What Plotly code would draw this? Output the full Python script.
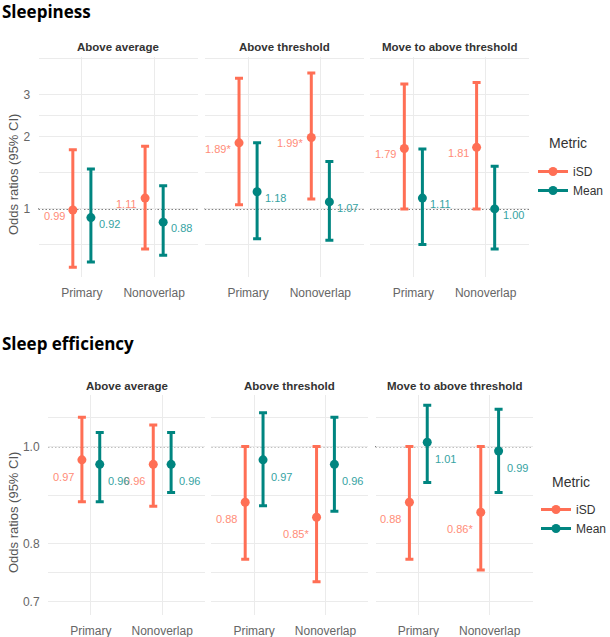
import numpy as np
import plotly.graph_objects as go

# ---------------- data ----------------
facets = ["Above average", "Above threshold", "Move to above threshold"]
analyses = ["Primary", "Nonoverlap"]
metrics = ["iSD", "Mean"]

# Sleepiness (rows = facets, cols = analyses)
sleepiness_isd_or = [[0.99, 1.11], [1.89, 1.99], [1.79, 1.81]]
sleepiness_isd_lo = [[0.57, 0.68], [1.04, 1.10], [1.00, 1.00]]
sleepiness_isd_hi = [[1.77, 1.83], [3.52, 3.70], [3.33, 3.38]]
sleepiness_isd_lab = [["0.99", "1.11"], ["1.89*", "1.99*"], ["1.79", "1.81"]]
sleepiness_mean_or = [[0.92, 0.88], [1.18, 1.07], [1.11, 1.00]]
sleepiness_mean_lo = [[0.60, 0.64], [0.75, 0.74], [0.71, 0.68]]
sleepiness_mean_hi = [[1.47, 1.25], [1.89, 1.58], [1.78, 1.51]]
sleepiness_mean_lab = [["0.92", "0.88"], ["1.18", "1.07"], ["1.11", "1.00"]]

# Sleep efficiency
eff_isd_or = [[0.97, 0.96], [0.88, 0.85], [0.88, 0.86]]
eff_isd_lo = [[0.881, 0.872], [0.772, 0.733], [0.772, 0.753]]
eff_isd_hi = [[1.070, 1.051], [1.000, 1.000], [1.000, 1.000]]
eff_isd_lab = [["0.97", "0.96"], ["0.88", "0.85*"], ["0.88", "0.86*"]]
eff_mean_or = [[0.96, 0.96], [0.97, 0.96], [1.01, 0.99]]
eff_mean_lo = [[0.881, 0.900], [0.873, 0.862], [0.921, 0.900]]
eff_mean_hi = [[1.033, 1.033], [1.081, 1.070], [1.100, 1.090]]
eff_mean_lab = [["0.96", "0.96"], ["0.97", "0.96"], ["1.01", "0.99"]]

# axis breaks
sleepiness_ticks = [1, 2, 3]
sleepiness_ticktext = ["1", "2", "3"]
sleepiness_minor = [0.707, 1.414, 2.449, 4.243]
sleepiness_range = [0.519, 4.32]
eff_ticks = [0.7, 0.8, 1.0]
eff_ticktext = ["0.7", "0.8", "1.0"]
eff_minor = [0.748, 0.894, 1.069]
eff_range = [0.679, 1.126]
REF_VALUE = 1.0

# ---------------- style ----------------
W, H = 610, 637
COL = {"iSD": "#FF6F55", "Mean": "#008580"}
LABCOL = {"iSD": "#FF8C78", "Mean": "#36A3A3"}
DODGE = {"iSD": -0.125, "Mean": 0.125}
GRID = "#EBEBEB"
FONT = "Liberation Sans, Arial, sans-serif"

charts = [
    dict(title="Sleepiness", title_y=11,
         data={"iSD": (sleepiness_isd_or, sleepiness_isd_lo, sleepiness_isd_hi, sleepiness_isd_lab),
               "Mean": (sleepiness_mean_or, sleepiness_mean_lo, sleepiness_mean_hi, sleepiness_mean_lab)},
         ticks=sleepiness_ticks, ticktext=sleepiness_ticktext, minor=sleepiness_minor,
         yrange=sleepiness_range, ypx=(57, 277), strip_y=47,
         xpx=[(38.5, 197.5), (204.7, 363.7), (370, 529)], labshift=-6,
         legend="legend", leg_x=533, leg_y=157, legtitle_x=547, legtitle_y=143),
    dict(title="Sleep efficiency", title_y=343,
         data={"iSD": (eff_isd_or, eff_isd_lo, eff_isd_hi, eff_isd_lab),
               "Mean": (eff_mean_or, eff_mean_lo, eff_mean_hi, eff_mean_lab)},
         ticks=eff_ticks, ticktext=eff_ticktext, minor=eff_minor,
         yrange=eff_range, ypx=(395, 615), strip_y=386,
         xpx=[(48, 205), (211.3, 368.3), (375.5, 532.5)], labshift=-17,
         legend="legend2", leg_x=536, leg_y=495, legtitle_x=550, legtitle_y=482),
]

fig = go.Figure()
layout = {}
annotations = []
shapes = []

ax_i = 0
for ci, ch in enumerate(charts):
    y0px, y1px = ch["ypx"]
    ydom = [1 - y1px / H, 1 - y0px / H]
    for fi, facet in enumerate(facets):
        ax_i += 1
        suf = "" if ax_i == 1 else str(ax_i)
        xref, yref = "x" + suf, "y" + suf
        x0px, x1px = ch["xpx"][fi]
        layout["xaxis" + suf] = dict(
            domain=[x0px / W, x1px / W], anchor=yref, range=[0.4, 2.6],
            tickmode="array", tickvals=[1, 2], ticktext=analyses,
            showgrid=True, gridcolor=GRID, gridwidth=1, zeroline=False, showline=False,
            ticks="outside", ticklen=5, tickcolor="rgba(0,0,0,0)",
            tickfont=dict(family=FONT, size=12, color="#666666"), fixedrange=True)
        layout["yaxis" + suf] = dict(
            domain=ydom, anchor=xref, type="log",
            range=[np.log10(ch["yrange"][0]), np.log10(ch["yrange"][1])],
            tickmode="array", tickvals=ch["ticks"], ticktext=ch["ticktext"],
            showticklabels=(fi == 0),
            showgrid=True, gridcolor=GRID, gridwidth=1, zeroline=False, showline=False,
            ticks="outside" if fi == 0 else "", ticklen=5, tickcolor="rgba(0,0,0,0)",
            tickfont=dict(family=FONT, size=12, color="#666666"),
            minor=dict(tickmode="array", tickvals=ch["minor"], showgrid=True,
                       gridcolor=GRID, gridwidth=1, ticks=""),
            fixedrange=True)
        # reference dotted line
        shapes.append(dict(type="line", xref=xref + " domain", yref=yref,
                           x0=0, x1=1, y0=REF_VALUE, y1=REF_VALUE,
                           line=dict(color="#000000", width=1.3, dash="1.5px,2px"), layer="below"))
        # strip title
        annotations.append(dict(text="<b>%s</b>" % facet, xref="paper", yref="paper",
                                x=(x0px + x1px) / 2 / W, y=1 - ch["strip_y"] / H,
                                xanchor="center", yanchor="middle", showarrow=False,
                                font=dict(family=FONT, size=11.5, color="#333333")))
        for m in metrics:
            orv, lo, hi, lab = ch["data"][m]
            xs = [k + 1 + DODGE[m] for k in range(len(analyses))]
            ys = orv[fi]
            plus = [h - v for h, v in zip(hi[fi], ys)]
            minus = [v - l for v, l in zip(ys, lo[fi])]
            fig.add_trace(go.Scatter(
                x=xs, y=ys, xaxis=xref, yaxis=yref, mode="markers", showlegend=False,
                marker=dict(color=COL[m], size=9),
                error_y=dict(type="data", symmetric=False, array=plus, arrayminus=minus,
                             color=COL[m], thickness=3, width=4),
                hoverinfo="skip"))
            for x, y, t in zip(xs, ys, lab[fi]):
                annotations.append(dict(
                    text=t, xref=xref, yref=yref, x=x, y=np.log10(y),
                    xanchor="right" if m == "iSD" else "left", yanchor="middle",
                    xshift=-6 if m == "iSD" else 6, yshift=ch["labshift"],
                    showarrow=False, font=dict(family=FONT, size=11, color=LABCOL[m])))
    # legend entries
    for m in metrics:
        fig.add_trace(go.Scatter(
            x=[None], y=[None], mode="lines+markers", name=m, legend=ch["legend"],
            line=dict(color=COL[m], width=3), marker=dict(color=COL[m], size=9),
            showlegend=True))
    layout[ch["legend"]] = dict(
        x=ch["leg_x"] / W, y=1 - ch["leg_y"] / H, xanchor="left", yanchor="top",
        font=dict(family=FONT, size=12, color="#333333"), bgcolor="rgba(0,0,0,0)",
        tracegroupgap=0)
    annotations.append(dict(text="Metric", xref="paper", yref="paper",
                            x=ch["legtitle_x"] / W, y=1 - ch["legtitle_y"] / H,
                            xanchor="left", yanchor="middle", showarrow=False,
                            font=dict(family=FONT, size=14, color="#333333")))
    # chart title
    annotations.append(dict(text="<b>%s</b>" % ch["title"], xref="paper", yref="paper",
                            x=0, y=1 - ch["title_y"] / H, xanchor="left", yanchor="middle",
                            showarrow=False,
                            font=dict(family="Open Sans, Noto Sans, sans-serif", size=17, color="black")))
    # y axis title
    annotations.append(dict(text="Odds ratios (95% CI)", xref="paper", yref="paper",
                            x=13 / W, y=1 - ((y0px + y1px) / 2 + 8) / H, textangle=-90,
                            xanchor="center", yanchor="middle", showarrow=False,
                            font=dict(family=FONT, size=13, color="#555555")))

fig.update_layout(width=W, height=H, margin=dict(l=0, r=0, t=0, b=0, autoexpand=False),
                  paper_bgcolor="white", plot_bgcolor="white",
                  annotations=annotations, shapes=shapes, **layout)
fig.write_html("out.html")
